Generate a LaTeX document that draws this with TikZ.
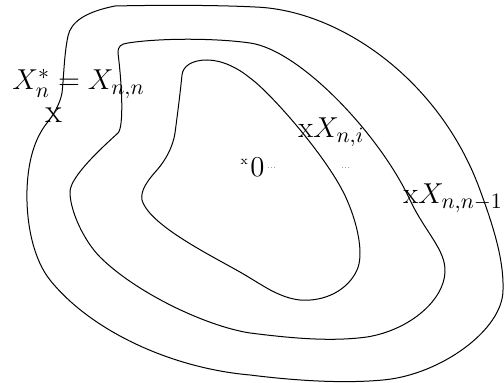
\documentclass[tikz,border=0pt]{standalone}
\begin{document}
\begin{tikzpicture}[x=0.5pt,y=-0.5pt,
  curve/.style={draw=black,line width=0.5pt},
  lbl/.style={inner sep=0pt,anchor=base west,font=\fontsize{15.2}{18}\selectfont},
  tinydots/.style={inner sep=0pt,anchor=base west,font=\fontsize{3.5}{4}\selectfont}]
\useasboundingbox (0,0) rectangle (504,383);
% outer curve
\draw[curve] (115,6) .. controls (160,5) and (215,5) .. (255,7)
  .. controls (340,10) and (440,80) .. (480,190)
  .. controls (492,223) and (504,258) .. (503,290)
  .. controls (503,330) and (440,375) .. (383,380)
  .. controls (340,384) and (290,380) .. (250,375)
  .. controls (170,368) and (90,330) .. (50,280)
  .. controls (34,260) and (26,225) .. (27,190)
  .. controls (28,160) and (35,138) .. (47,123)
  .. controls (55,113) and (60,103) .. (62,93)
  .. controls (64,75) and (64,55) .. (68,36)
  .. controls (71,22) and (85,12) .. cycle;
% middle curve
\draw[curve] (128,43) .. controls (160,38) and (215,38) .. (250,43)
  .. controls (300,50) and (380,135) .. (410,200)
  .. controls (425,232) and (446,250) .. (445,272)
  .. controls (444,300) and (410,330) .. (367,337)
  .. controls (330,342) and (290,338) .. (250,333)
  .. controls (205,326) and (135,292) .. (100,257)
  .. controls (85,242) and (70,212) .. (70,192)
  .. controls (70,176) and (105,145) .. (118,133)
  .. controls (124,127) and (122,85) .. (118,53)
  .. controls (118,46) and (121,44) .. cycle;
% inner curve
\draw[curve] (182,75) .. controls (183,66) and (192,60) .. (207,60)
  .. controls (222,60) and (238,68) .. (250,78)
  .. controls (270,92) and (330,160) .. (347,200)
  .. controls (358,225) and (364,255) .. (357,270)
  .. controls (348,290) and (325,302) .. (300,300)
  .. controls (280,298) and (262,285) .. (250,278)
  .. controls (225,262) and (150,228) .. (142,200)
  .. controls (140,190) and (149,179) .. (157,170)
  .. controls (165,161) and (173,147) .. (175,133)
  .. controls (177,118) and (180,95) .. cycle;
% labels
\node[lbl] (xs) at (12,90) {$X_n^* = X_{n,n}$};
\node[lbl,font=\fontsize{17}{20}\selectfont] (m1) at (45,123) {x};
\node[lbl,font=\fontsize{6}{7}\selectfont] (m0) at (240,165) {x};
\node[lbl] (zero) at (250,177) {$0$};
\node[tinydots] (d1) at (267,169) {...};
\node[tinydots] (d2) at (341,169) {...};
\node[lbl] (xi) at (298,138) {x$X_{n,i}$};
\node[lbl] (xn1) at (403,204) {x$X_{n,n-1}$};
\end{tikzpicture}
\end{document}
